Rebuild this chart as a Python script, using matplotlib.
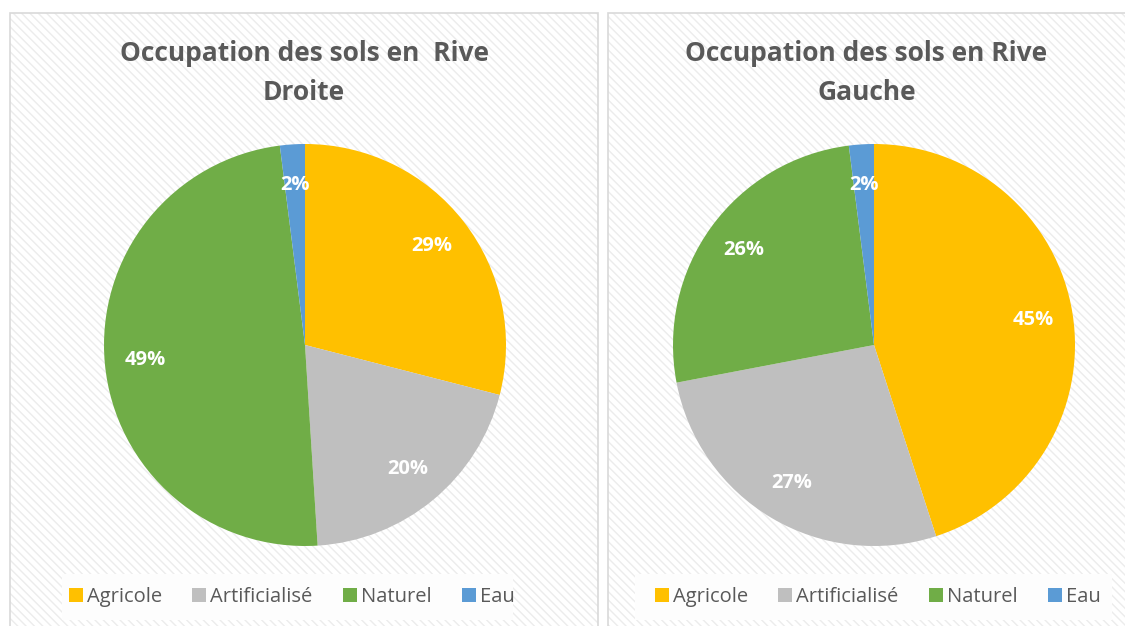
import matplotlib.pyplot as plt
from matplotlib.patches import Rectangle

plt.rcParams['font.family'] = ['Open Sans', 'DejaVu Sans']
plt.rcParams['hatch.color'] = '#ececec'
plt.rcParams['hatch.linewidth'] = 1.0

categories = ["Agricole", "Artificialisé", "Naturel", "Eau"]
rive_droite = [29, 20, 49, 2]
rive_gauche = [45, 27, 26, 2]
colors = ["#FFC000", "#BFBFBF", "#70AD47", "#5B9BD5"]

titles = ["Occupation des sols en  Rive\nDroite", "Occupation des sols en Rive\nGauche"]

W, H = 1125, 626
fig = plt.figure(figsize=(W / 100, H / 100), dpi=100)

# panels in pixel coords: (left, right)
panels = [(10, 598), (608, 1130)]
centers = [305, 874]

for (x0, x1), cx, vals, title in zip(panels, centers, [rive_droite, rive_gauche], titles):
    # panel background with faint stripes
    fig.patches.append(Rectangle((x0 / W, 0), (x1 - x0) / W, (H - 13) / H,
                                 transform=fig.transFigure, facecolor='white',
                                 edgecolor='#ececec', hatch='\\\\\\\\', lw=0, zorder=-3))
    fig.patches.append(Rectangle((x0 / W, -0.01), (x1 - x0) / W, (H - 13) / H + 0.01,
                                 transform=fig.transFigure, facecolor='none',
                                 edgecolor='#d9d9d9', lw=1.2, zorder=-2))
    r = 201
    ax = fig.add_axes([(cx - r) / W, (H - 345 - r) / H, 2 * r / W, 2 * r / H])
    ax.set_zorder(3)
    ax.patch.set_visible(False)
    wedges, texts, autotexts = ax.pie(vals, colors=colors, startangle=90, counterclock=False,
                                      autopct='%d%%', pctdistance=0.8, radius=1.0,
                                      wedgeprops=dict(linewidth=0))
    for t in autotexts:
        t.set_color('white')
        t.set_fontweight('bold')
        t.set_fontsize(14.5)
    ax.set_xlim(-1, 1)
    ax.set_ylim(-1, 1)
    ax.set_aspect('equal')
    ax.axis('off')

    xm = (x0 + min(x1, W)) / 2
    fig.text(xm / W, 1 - 73 / H, title, ha='center', va='center', fontsize=19,
             fontweight='bold', color='#595959', linespacing=1.6)

    # legend box
    lx0, lx1 = (62, 513) if cx < 600 else (635, 1112)
    fig.patches.append(Rectangle((lx0 / W, (H - 620) / H), (lx1 - lx0) / W, 46 / H,
                                 transform=fig.transFigure, facecolor='#fdfdfd',
                                 edgecolor='none', zorder=-1))
    leg = fig.legend(wedges, categories, loc='center', ncol=4,
                     bbox_to_anchor=(((lx0 + lx1) / 2 + 4) / W, (H - 597) / H),
                     frameon=False, fontsize=14.5, handlelength=0.7, handleheight=0.7,
                     handletextpad=0.2, columnspacing=1.5)
    for t in leg.get_texts():
        t.set_color('#595959')

fig.savefig('out.png', dpi=100)
